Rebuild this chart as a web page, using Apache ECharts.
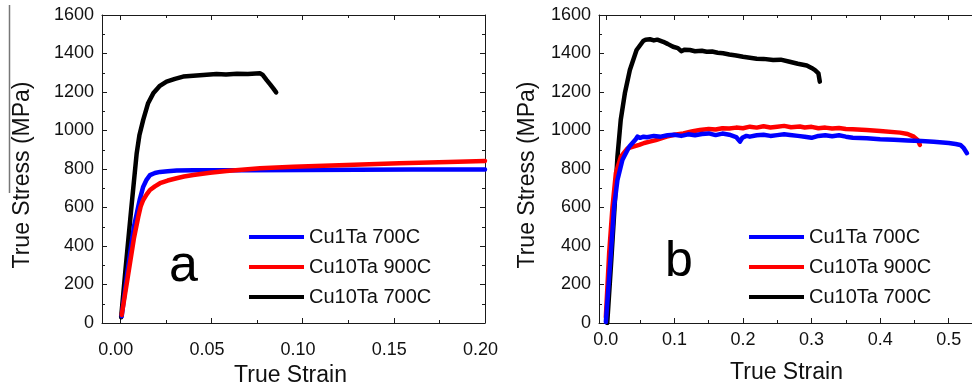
<!DOCTYPE html>
<html>
<head>
<meta charset="utf-8">
<script src="https://cdn.jsdelivr.net/npm/echarts@6/dist/echarts.min.js"></script>
<style>
html,body{margin:0;padding:0;background:#fff;}
#chart{width:972px;height:388px;}
</style>
</head>
<body>
<div id="chart"></div>
<script>
// ---------- data ----------
var seriesNames = ['Cu1Ta 700C', 'Cu10Ta 900C', 'Cu10Ta 700C'];
var seriesColors = ['#0000ff', '#ff0000', '#000000'];

// panel a: [true strain, true stress (MPa)]
var aCu1Ta700 = [[0.0008,35],[0.004,270],[0.0075,500],[0.0093,580],[0.0108,645],[0.0126,708],[0.0145,745],[0.0163,768],[0.019,779],[0.0218,785],[0.026,788],[0.031,792],[0.040,793],[0.05,793],[0.07,794],[0.10,795],[0.13,796],[0.16,797],[0.20,798]];
var aCu10Ta900 = [[0.0008,42],[0.004,230],[0.0075,440],[0.0099,552],[0.0112,605],[0.0126,639],[0.0145,668],[0.0163,691],[0.019,710],[0.0218,726],[0.026,740],[0.0309,752],[0.035,761],[0.040,769],[0.0492,781],[0.0583,790],[0.0766,804],[0.0949,812],[0.12,820],[0.153,830],[0.18,836],[0.20,842]];
var aCu10Ta700 = [[0.0005,30],[0.003,290],[0.006,590],[0.009,880],[0.0105,975],[0.0126,1055],[0.0152,1140],[0.0181,1193],[0.0215,1230],[0.0254,1254],[0.030,1268],[0.0345,1280],[0.040,1284],[0.0455,1288],[0.0528,1293],[0.058,1291],[0.064,1295],[0.070,1293],[0.0766,1297],[0.078,1290],[0.0803,1262],[0.0822,1240],[0.0839,1219],[0.0855,1198]];

// panel b
var bCu1Ta700 = [[0,5],[0.0073,362],[0.012,604],[0.0169,743],[0.0241,847],[0.034,916],[0.0436,955],[0.046,968],[0.05,962],[0.055,968],[0.06,965],[0.07,972],[0.08,968],[0.09,975],[0.10,978],[0.11,972],[0.12,980],[0.13,975],[0.14,982],[0.15,985],[0.16,976],[0.17,984],[0.18,978],[0.19,966],[0.1956,942],[0.199,962],[0.205,972],[0.21,968],[0.22,975],[0.23,978],[0.24,972],[0.25,976],[0.26,980],[0.2686,977],[0.28,972],[0.29,968],[0.30,962],[0.31,972],[0.32,975],[0.33,970],[0.34,975],[0.35,968],[0.36,962],[0.3806,960],[0.40,955],[0.42,952],[0.44,948],[0.46,945],[0.478,942],[0.50,935],[0.51,930],[0.517,925],[0.522,908],[0.5266,882]];
var bCu10Ta900 = [[0,30],[0.0048,362],[0.0097,604],[0.0146,778],[0.0219,864],[0.0316,907],[0.04,916],[0.0486,925],[0.056,935],[0.064,942],[0.0729,950],[0.0886,968],[0.10,978],[0.113,985],[0.125,995],[0.137,1003],[0.15,1008],[0.16,1005],[0.17,1012],[0.18,1010],[0.19,1015],[0.20,1012],[0.21,1020],[0.22,1015],[0.23,1022],[0.24,1016],[0.25,1020],[0.26,1024],[0.27,1017],[0.283,1021],[0.29,1016],[0.30,1019],[0.31,1012],[0.32,1015],[0.33,1010],[0.34,1013],[0.35,1008],[0.36,1006],[0.38,1003],[0.40,998],[0.429,989],[0.44,982],[0.449,968],[0.455,950],[0.458,925]];
var bCu10Ta700 = [[0.002,0],[0.008,330],[0.013,620],[0.0169,864],[0.0217,1055],[0.0277,1193],[0.035,1314],[0.0448,1418],[0.0545,1465],[0.058,1472],[0.0642,1474],[0.07,1468],[0.075,1472],[0.0837,1461],[0.09,1450],[0.098,1435],[0.105,1428],[0.11,1412],[0.115,1420],[0.1226,1418],[0.13,1412],[0.14,1414],[0.147,1409],[0.155,1410],[0.163,1404],[0.171,1401],[0.18,1395],[0.19,1390],[0.20,1383],[0.21,1378],[0.22,1373],[0.23,1372],[0.244,1366],[0.255,1368],[0.268,1357],[0.28,1347],[0.293,1338],[0.30,1325],[0.305,1314],[0.31,1297],[0.312,1254]];

// axes / ticks
var aXMajor = [0, 0.05, 0.10, 0.15, 0.20];
var aXMinor = [0.025, 0.075, 0.125, 0.175];
var bXMajor = [0, 0.1, 0.2, 0.3, 0.4, 0.5];
var bXMinor = [0.05, 0.15, 0.25, 0.35, 0.45];
var yMin = 0, yMax = 1600, yStep = 200;

var panelLetters = ['a', 'b'];
var xTitle = 'True Strain';
var yTitle = 'True Stress (MPa)';

// ---------- chart ----------
var FONT = '"Liberation Sans", Arial, sans-serif';
var AX = '#1a1a1a';
var chart = echarts.init(document.getElementById('chart'), null, {renderer: 'canvas'});

function xAx(grid, pos, min, max, ticks, len, showLine, label) {
  var o = {
    type: 'value', gridIndex: grid, position: pos, min: min, max: max,
    axisLine: {show: showLine, onZero: false, lineStyle: {color: AX, width: 1}},
    axisTick: {show: true, inside: true, length: len, customValues: ticks, lineStyle: {color: AX, width: 1}},
    axisLabel: {show: false},
    splitLine: {show: false}
  };
  if (label) {
    var namePad = label.namePad;
    o.axisLabel = Object.assign({show: true, customValues: ticks, fontSize: 18, fontFamily: FONT, color: '#111'}, label);
    o.name = xTitle;
    o.nameLocation = 'middle';
    o.nameGap = label.nameGap;
    o.nameTextStyle = {fontSize: 23, fontFamily: FONT, color: '#111', padding: namePad};
    delete o.axisLabel.nameGap;
    delete o.axisLabel.namePad;
  }
  return o;
}
function yAx(grid, pos, withLabel, nameGap) {
  var o = {
    type: 'value', gridIndex: grid, position: pos, min: yMin, max: yMax, interval: yStep,
    axisLine: {show: true, onZero: false, lineStyle: {color: AX, width: 1}},
    axisTick: {show: true, inside: true, length: 5, lineStyle: {color: AX, width: 1}},
    minorTick: {show: true, splitNumber: 2, length: 3, lineStyle: {color: AX, width: 1}},
    axisLabel: {show: withLabel, fontSize: 18, fontFamily: FONT, color: '#111', margin: 8,
      formatter: function (v) { return String(v); }},
    splitLine: {show: false}
  };
  if (withLabel) {
    o.name = yTitle;
    o.nameLocation = 'middle';
    o.nameGap = nameGap;
    o.nameTextStyle = {fontSize: 23, fontFamily: FONT, color: '#111', padding: [0, 12, 0, 0]};
  }
  return o;
}

function line(name, data, xi, yi, color, z) {
  return {
    type: 'line', name: name, data: data, xAxisIndex: xi, yAxisIndex: yi,
    showSymbol: false, symbol: 'none', color: color, z: z,
    lineStyle: {width: 4.5, color: color, join: 'round', cap: 'round'},
    animation: false
  };
}

function legendAt(left) {
  return {
    left: left, top: 227, orient: 'vertical', icon: 'rect', padding: 0,
    itemWidth: 55, itemHeight: 4, itemGap: 10,
    data: seriesNames,
    selectedMode: false,
    textStyle: {fontSize: 20, fontFamily: FONT, color: '#111', lineHeight: 20}
  };
}

var option = {
  backgroundColor: '#fff',
  animation: false,
  grid: [
    {left: 102, top: 15, width: 383, height: 308, containLabel: false, outerBoundsMode: 'none'},
    {left: 599, top: 15, width: 384, height: 308, containLabel: false, outerBoundsMode: 'none'}
  ],
  xAxis: [
    xAx(0, 'bottom', -0.01, 0.20, aXMajor, 5, true, {margin: 18, padding: [0, 9, 0, 0], formatter: function (v) { return v.toFixed(2); }, nameGap: 38, namePad: [0, 6, 0, 0]}),
    xAx(0, 'bottom', -0.01, 0.20, aXMinor, 3, false, null),
    xAx(0, 'top', -0.01, 0.20, aXMajor, 5, true, null),
    xAx(0, 'top', -0.01, 0.20, aXMinor, 3, false, null),
    xAx(1, 'bottom', -0.01, 0.55, bXMajor, 5, true, {margin: 8, formatter: function (v) { return v.toFixed(1); }, nameGap: 38, namePad: [0, 9, 0, 0]}),
    xAx(1, 'bottom', -0.01, 0.55, bXMinor, 3, false, null),
    xAx(1, 'top', -0.01, 0.55, bXMajor, 5, true, null),
    xAx(1, 'top', -0.01, 0.55, bXMinor, 3, false, null)
  ],
  yAxis: [
    yAx(0, 'left', true, 68),
    yAx(0, 'right', false),
    yAx(1, 'left', true, 60),
    yAx(1, 'right', false)
  ],
  legend: [legendAt(249), legendAt(749)],
  series: [
    line(seriesNames[2], aCu10Ta700, 0, 0, seriesColors[2], 2),
    line(seriesNames[0], aCu1Ta700, 0, 0, seriesColors[0], 3),
    line(seriesNames[1], aCu10Ta900, 0, 0, seriesColors[1], 4),
    line(seriesNames[2], bCu10Ta700, 4, 2, seriesColors[2], 2),
    line(seriesNames[1], bCu10Ta900, 4, 2, seriesColors[1], 3),
    line(seriesNames[0], bCu1Ta700, 4, 2, seriesColors[0], 4)
  ],
  graphic: [
    {type: 'text', left: 169, top: 241, style: {text: panelLetters[0], fontSize: 52, fontFamily: FONT, fill: '#000'}},
    {type: 'text', left: 665, top: 237, style: {text: panelLetters[1], fontSize: 50, fontFamily: FONT, fill: '#000'}},
    {type: 'line', shape: {x1: 9.5, y1: 5, x2: 9.5, y2: 193}, style: {stroke: '#777', lineWidth: 1.5}, silent: true}
  ]
};
chart.setOption(option);
</script>
</body>
</html>
